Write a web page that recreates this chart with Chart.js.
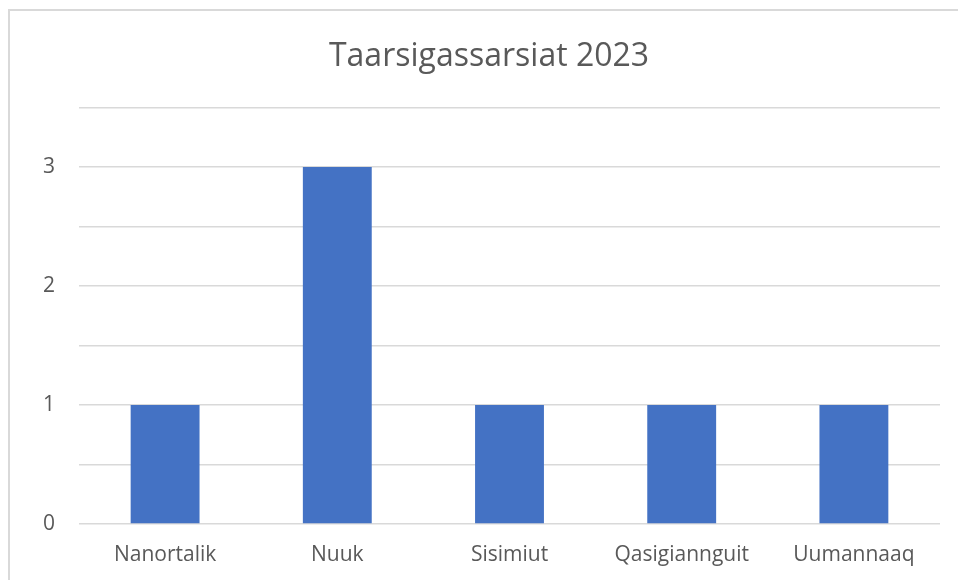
<!DOCTYPE html>
<html>
<head>
<meta charset="utf-8">
<script src="https://cdn.jsdelivr.net/npm/chart.js@4"></script>
<style>
  html, body { margin: 0; padding: 0; background: #fff; overflow: hidden; }
  #wrap { position: relative; width: 958px; height: 580px; }
  #frame { position: absolute; left: 8px; top: 9px; width: 980px; height: 600px; border: 2px solid #d9d9d9; box-sizing: border-box; }
  canvas { position: absolute; left: 0; top: 0; }
</style>
</head>
<body>
<div id="wrap">
  <div id="frame"></div>
  <canvas id="chart" width="958" height="580"></canvas>
</div>
<script>
// Data
const categories = ['Nanortalik', 'Nuuk', 'Sisimiut', 'Qasigiannguit', 'Uumannaaq'];
const values = [1, 3, 1, 1, 1];
const yTickLabels = [0, 1, 2, 3];

const textColor = '#595959';
const gridColor = '#d9d9d9';
const fontFamily = "'Open Sans', 'Noto Sans', sans-serif";

const ctx = document.getElementById('chart').getContext('2d');
new Chart(ctx, {
    type: 'bar',
    data: {
        labels: categories,
        datasets: [{
            label: 'Taarsigassarsiat',
            data: values,
            backgroundColor: '#4472c4',
            borderWidth: 0,
            barPercentage: 0.4,
            categoryPercentage: 1
        }]
    },
    options: {
        responsive: false,
        animation: false,
        layout: { padding: { left: 38, right: 18, top: 0, bottom: 0 } },
        plugins: {
            legend: { display: false },
            tooltip: { enabled: false },
            title: {
                display: true,
                text: 'Taarsigassarsiat 2023',
                color: textColor,
                font: { family: fontFamily, size: 32, weight: 'normal' },
                padding: { top: 38, bottom: 31 }
            }
        },
        scales: {
            x: {
                grid: { display: false },
                border: { display: false },
                ticks: {
                    color: textColor,
                    font: { family: fontFamily, size: 21 },
                    padding: 10,
                    maxRotation: 0
                },
                afterFit: scale => { scale.height = 56; }
            },
            y: {
                min: 0,
                max: 3.5,
                grid: { color: gridColor, lineWidth: 1.5, drawTicks: false },
                border: { display: false },
                ticks: {
                    stepSize: 0.5,
                    color: textColor,
                    font: { family: fontFamily, size: 21 },
                    padding: 24,
                    callback: v => yTickLabels.includes(v) ? String(v) : ''
                },
                afterFit: scale => { scale.width = 41; }
            }
        }
    }
});
</script>
</body>
</html>
